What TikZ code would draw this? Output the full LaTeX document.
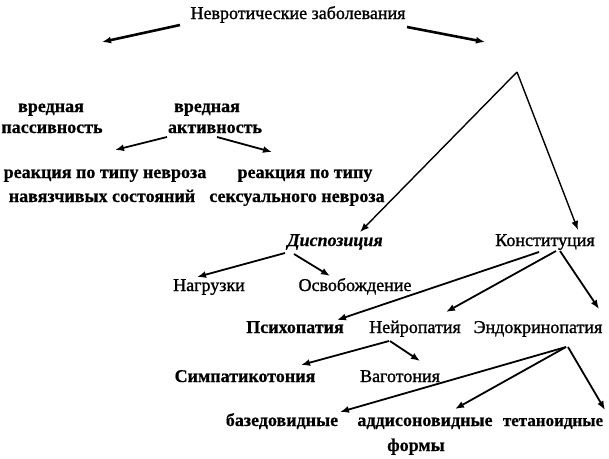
\documentclass[tikz,border=0pt]{standalone}
\usepackage{fontspec}
\setmainfont{Liberation Serif}
\newfontfamily\regheavy{Liberation Serif}[FakeBold=1.2]
\newfontfamily\boldheavy{Liberation Serif Bold}[FakeBold=0.6]
\usetikzlibrary{arrows.meta}
\begin{document}
\begin{tikzpicture}[x=1pt,y=-1pt,
  txt/.style={inner sep=0pt, anchor=base, font=\fontsize{18}{20}\regheavy},
  btxt/.style={txt, font=\fontsize{18}{20}\boldheavy},
  arr/.style={line width=1.8pt, -{Latex[length=9pt,width=7pt]}},
  thick arr/.style={arr, line width=2.6pt},
  thin arr/.style={arr, line width=1.4pt}]
\useasboundingbox (0,0) rectangle (609,458);
% nodes
\node[txt]  (title) at (298,19) {Невротические заболевания};
\node[btxt] (vr1) at (51,112) {вредная};
\node[btxt] (pas) at (52,133) {пассивность};
\node[btxt] (vr2) at (207,112) {вредная};
\node[btxt] (akt) at (215,133) {активность};
\node[btxt] (r1a) at (105,178) {реакция по типу невроза};
\node[btxt] (r1b) at (102,202) {навязчивых состояний};
\node[btxt] (r2a) at (305,178) {реакция по типу};
\node[btxt] (r2b) at (297,202) {сексуального невроза};
\node[btxt, font=\fontsize{18}{20}\boldheavy\itshape] (dis) at (335,246) {Диспозиция};
\node[txt]  (kon) at (545,246) {Конституция};
\node[txt]  (nag) at (209,291) {Нагрузки};
\node[txt]  (osv) at (355,291) {Освобождение};
\node[btxt] (psi) at (295,333) {Психопатия};
\node[txt]  (nei) at (415,333) {Нейропатия};
\node[txt]  (endo) at (538,333) {Эндокринопатия};
\node[btxt] (sim) at (245,382) {Симпатикотония};
\node[txt]  (vag) at (400,382) {Ваготония};
\node[btxt] (baz) at (282,426) {базедовидные};
\node[btxt] (add) at (425,426) {аддисоновидные};
\node[btxt] (form) at (416,451) {формы};
\node[btxt, font=\fontsize{17}{20}\boldheavy] (tet) at (553,426) {тетаноидные};
\coordinate (lt) at (102,42);
\coordinate (rt) at (485,42);
\coordinate (apex) at (517,72);
% connectors
\draw[thick arr] ([shift={(-118,6)}]title.base) -- (lt);
\draw[thick arr] ([shift={(109,8)}]title.base) -- (rt);
\draw[thin arr] (apex) -- ([shift={(25,-14)}]dis.base);
\draw[thin arr] (apex) -- ([shift={(33,-16)}]kon.base);
\draw[arr] ([shift={(-48,4)}]akt.base) -- ([shift={(10,-28)}]r1a.base);
\draw[arr] ([shift={(2,4)}]akt.base) -- ([shift={(-33,-26)}]r2a.base);
\draw[arr] ([shift={(-50,7)}]dis.base) -- ([shift={(-12,-14)}]nag.base);
\draw[arr] ([shift={(-41,8)}]dis.base) -- ([shift={(-25,-15)}]osv.base);
\draw[arr] ([shift={(-6,6)}]kon.base) -- ([shift={(42,-13)}]psi.base);
\draw[arr] ([shift={(11,5)}]kon.base) -- ([shift={(31,-21)}]nei.base);
\draw[arr] ([shift={(15,5)}]kon.base) -- ([shift={(61,-24)}]endo.base);
\draw[arr] ([shift={(-26,8)}]nei.base) -- ([shift={(56,-17)}]sim.base);
\draw[arr] ([shift={(-25,8)}]nei.base) -- ([shift={(20,-21)}]vag.base);
\draw[arr] ([shift={(28,14)}]endo.base) -- ([shift={(58,-14)}]baz.base);
\draw[arr] ([shift={(28,14)}]endo.base) -- ([shift={(30,-17)}]add.base);
\draw[arr] ([shift={(30,14)}]endo.base) -- ([shift={(52,-16)}]tet.base);
\end{tikzpicture}
\end{document}
